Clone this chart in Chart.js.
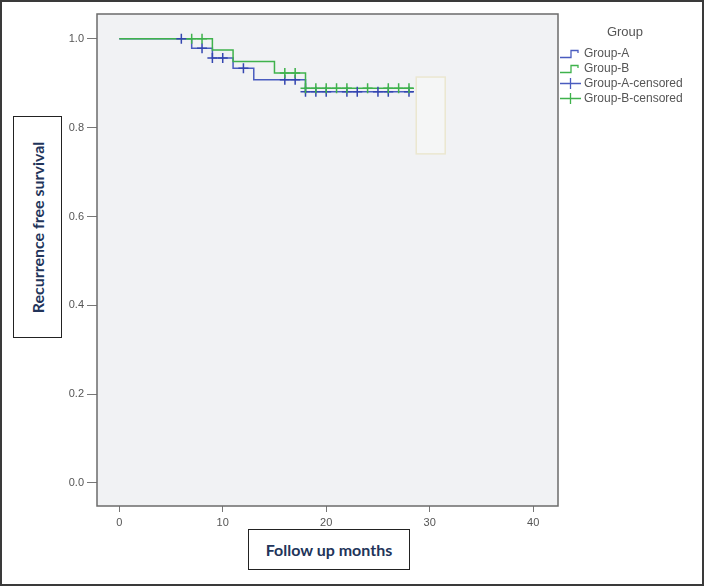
<!DOCTYPE html>
<html>
<head>
<meta charset="utf-8">
<script src="https://cdn.jsdelivr.net/npm/chart.js@4.4.0/dist/chart.umd.min.js"></script>
<style>
    html, body { margin: 0; padding: 0; background: #fff; }
    #wrap { position: relative; width: 704px; height: 586px; overflow: hidden; }
    #chart { position: absolute; left: 0; top: 0; }
    #frame { position: absolute; left: 0; top: 0; width: 704px; height: 586px; box-sizing: border-box;
             border: 2px solid #3a3a3a; pointer-events: none; }
    .title-box { position: absolute; box-sizing: border-box; border: 1.5px solid #222; background: #fff;
                 display: flex; align-items: center; justify-content: center;
                 font-family: Lato, "Open Sans", sans-serif; font-weight: bold; font-size: 16px; color: #22345a; }
    #ytitle { left: 13px; top: 116px; width: 49px; height: 222px; }
    #ytitle span { display: block; white-space: nowrap; transform: rotate(-90deg); }
    #xtitle { left: 248px; top: 529px; width: 162px; height: 41px; }
    #legend { position: absolute; left: 556px; top: 0; width: 148px; height: 120px;
              font-family: "Liberation Sans", Arial, sans-serif; color: #555; }
    #legend .head { position: absolute; left: 29px; top: 24px; width: 80px; text-align: center; font-size: 13px; line-height: 16px; }
    #legend .row { position: absolute; left: 3px; height: 15px; line-height: 15px; font-size: 12px; white-space: nowrap; }
    #legend .row svg { vertical-align: top; margin-right: 1px; }
</style>
</head>
<body>
<div id="wrap">
    <canvas id="chart" width="704" height="586"></canvas>
    <div id="ytitle" class="title-box"><span>Recurrence free survival</span></div>
    <div id="xtitle" class="title-box">Follow up months</div>
    <div id="legend"><div class="head">Group</div></div>
    <div id="frame"></div>
</div>
<script>
// axis ticks
const xTicks = [0, 10, 20, 30, 40];
const yTicks = [0.0, 0.2, 0.4, 0.6, 0.8, 1.0];

// Kaplan-Meier steps (time in months, survival)
const groupATimes = [0, 7, 9, 11, 13, 18, 28.4];
const groupASurv = [1.0, 0.979, 0.957, 0.934, 0.908, 0.881, 0.881];
const groupBTimes = [0, 9, 11, 15, 18, 28.4];
const groupBSurv = [1.0, 0.975, 0.949, 0.923, 0.889, 0.889];

// censored observations
const groupACensTimes = [6, 8, 9, 10, 12, 16, 17, 18, 19, 20, 22, 23, 25, 26, 28];
const groupACensSurv = [1.0, 0.979, 0.957, 0.957, 0.934, 0.908, 0.908, 0.881, 0.881, 0.881, 0.881, 0.881, 0.881, 0.881, 0.881];
const groupBCensTimes = [7, 8, 16, 17, 18, 19, 20, 21, 22, 24, 26, 27, 28];
const groupBCensSurv = [1.0, 1.0, 0.923, 0.923, 0.889, 0.889, 0.889, 0.889, 0.889, 0.889, 0.889, 0.889, 0.889];

// empty legend placeholder box left in the plot (x range, y range)
const emptyBoxX = [28.7, 31.5];
const emptyBoxY = [0.741, 0.914];

const groupNames = ['Group-A', 'Group-B', 'Group-A-censored', 'Group-B-censored'];
const blue = '#4a5cbf';
const blueMark = '#3446b0';
const green = '#3fb24c';

function toPoints(xs, ys) {
    return xs.map((x, i) => ({ x: x, y: ys[i] }));
}

// plot background, frame and the empty box
const plotDecor = {
    id: 'plotDecor',
    beforeDraw(chart) {
        const a = chart.chartArea, ctx = chart.ctx;
        ctx.save();
        ctx.fillStyle = '#f1f2f4';
        ctx.fillRect(a.left, a.top, a.right - a.left, a.bottom - a.top);
        ctx.restore();
    },
    beforeDatasetsDraw(chart) {
        const a = chart.chartArea, ctx = chart.ctx;
        const xs = chart.scales.x, ys = chart.scales.y;
        ctx.save();
        ctx.strokeStyle = '#6b6b6b';
        ctx.lineWidth = 1.5;
        ctx.strokeRect(a.left, a.top, a.right - a.left, a.bottom - a.top);
        const bx0 = xs.getPixelForValue(emptyBoxX[0]), bx1 = xs.getPixelForValue(emptyBoxX[1]);
        const by0 = ys.getPixelForValue(emptyBoxY[1]), by1 = ys.getPixelForValue(emptyBoxY[0]);
        ctx.fillStyle = '#f5f6f6';
        ctx.fillRect(bx0, by0, bx1 - bx0, by1 - by0);
        ctx.strokeStyle = '#ebe7d0';
        ctx.strokeRect(bx0, by0, bx1 - bx0, by1 - by0);
        ctx.restore();
    }
};

const tickFont = { family: '"Liberation Sans", Arial, sans-serif', size: 11 };

new Chart(document.getElementById('chart').getContext('2d'), {
    type: 'line',
    data: {
        datasets: [
            { label: groupNames[0], data: toPoints(groupATimes, groupASurv), stepped: true,
              borderColor: blue, borderWidth: 1.5, pointRadius: 0, fill: false, order: 4 },
            { label: groupNames[1], data: toPoints(groupBTimes, groupBSurv), stepped: true,
              borderColor: green, borderWidth: 1.5, pointRadius: 0, fill: false, order: 3 },
            { label: groupNames[2], type: 'scatter', data: toPoints(groupACensTimes, groupACensSurv),
              pointStyle: 'cross', pointRadius: 5, borderColor: blueMark, borderWidth: 1.5, order: 2 },
            { label: groupNames[3], type: 'scatter', data: toPoints(groupBCensTimes, groupBCensSurv),
              pointStyle: 'cross', pointRadius: 5, borderColor: green, borderWidth: 1.5, order: 1 }
        ]
    },
    options: {
        responsive: false,
        animation: false,
        devicePixelRatio: 1,
        layout: { padding: { left: 57, top: 14, right: 146, bottom: 50 } },
        plugins: { legend: { display: false }, tooltip: { enabled: false } },
        scales: {
            x: {
                type: 'linear',
                min: -2.15,
                max: 42.4,
                afterBuildTicks: axis => { axis.ticks = xTicks.map(v => ({ value: v })); },
                afterFit: axis => { axis.height = 30; },
                border: { display: false },
                grid: { drawOnChartArea: false, drawTicks: true, tickLength: 6, color: '#777', lineWidth: 1 },
                ticks: { color: '#555', font: tickFont, padding: 4, maxRotation: 0, callback: v => String(v) }
            },
            y: {
                type: 'linear',
                min: -0.052,
                max: 1.056,
                afterBuildTicks: axis => { axis.ticks = yTicks.map(v => ({ value: v })); },
                afterFit: axis => { axis.width = 40; },
                border: { display: false },
                grid: { drawOnChartArea: false, drawTicks: true, tickLength: 10, color: '#777', lineWidth: 1 },
                ticks: { color: '#555', font: tickFont, padding: 3, callback: v => Number(v).toFixed(1) }
            }
        }
    },
    plugins: [plotDecor]
});

// legend built from the group names
const legendIcons = [
    `<svg width="24" height="15"><path d="M1 11.5 H12 V4.5 H19 V7" fill="none" stroke="${blue}" stroke-width="1.3"/></svg>`,
    `<svg width="24" height="15"><path d="M1 11.5 H12 V4.5 H19 V7" fill="none" stroke="${green}" stroke-width="1.3"/></svg>`,
    `<svg width="24" height="15"><path d="M1 7.5 H22 M11.5 2 V13" fill="none" stroke="${blue}" stroke-width="1.3"/></svg>`,
    `<svg width="24" height="15"><path d="M1 7.5 H22 M11.5 2 V13" fill="none" stroke="${green}" stroke-width="1.3"/></svg>`
];
const legendEl = document.getElementById('legend');
groupNames.forEach(function(name, i) {
    const row = document.createElement('div');
    row.className = 'row';
    row.style.top = (46 + i * 15) + 'px';
    row.innerHTML = legendIcons[i] + name;
    legendEl.appendChild(row);
});
</script>
</body>
</html>
